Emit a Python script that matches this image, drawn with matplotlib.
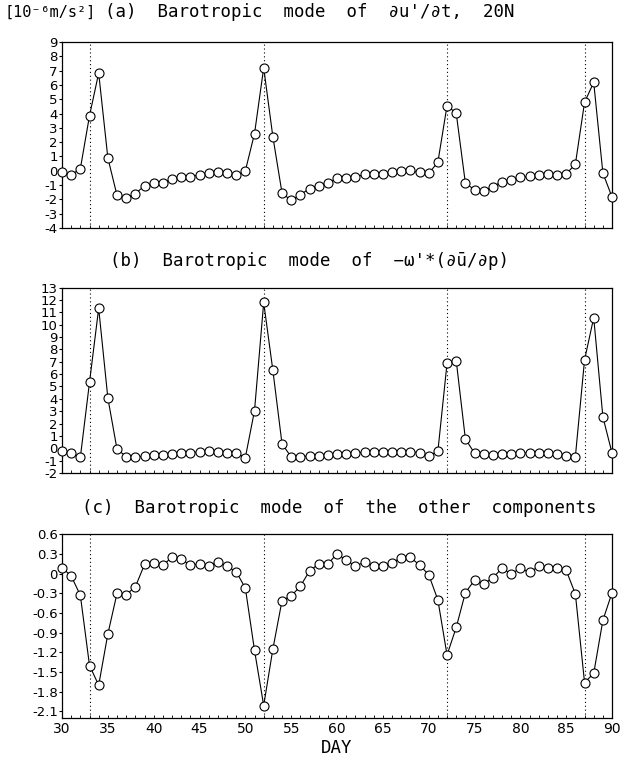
import matplotlib
matplotlib.use('Agg')
from matplotlib import pyplot as plt
from matplotlib.ticker import MultipleLocator, FuncFormatter

plt.rcParams['font.family'] = ['DejaVu Sans']
title_font = ['DejaVu Sans Mono', 'DejaVu Sans']

days = list(range(30, 91))
event_days = [33, 52, 72, 87]

# (a) barotropic mode of du'/dt, 20N
dudt = [-0.1, -0.3, 0.15, 3.85, 6.83, 0.9, -1.72, -1.9, -1.6, -1.05,
        -0.88, -0.88, -0.56, -0.42, -0.42, -0.28, -0.16, -0.1, -0.18, -0.33,
        0.0, 2.6, 7.2, 2.38, -1.56, -2.07, -1.68, -1.24, -1.03, -0.86,
        -0.51, -0.51, -0.44, -0.26, -0.26, -0.26, -0.1, -0.02, 0.02, -0.12,
        -0.19, 0.6, 4.55, 4.03, -0.86, -1.33, -1.4, -1.1, -0.77, -0.68,
        -0.44, -0.4, -0.3, -0.23, -0.28, -0.23, 0.47, 4.78, 6.18, -0.16,
        -1.84]

# (b) barotropic mode of -w'*(du/dp)
omega_term = [-0.2, -0.4, -0.73, 5.34, 11.33, 4.07, -0.08, -0.67, -0.73, -0.62,
              -0.57, -0.57, -0.43, -0.4, -0.35, -0.3, -0.24, -0.3, -0.35, -0.4,
              -0.75, 3.05, 11.8, 6.31, 0.35, -0.7, -0.7, -0.62, -0.6, -0.55,
              -0.5, -0.45, -0.4, -0.3, -0.3, -0.3, -0.3, -0.3, -0.3, -0.35,
              -0.6, -0.25, 6.88, 7.1, 0.76, -0.4, -0.5, -0.55, -0.5, -0.45,
              -0.4, -0.35, -0.35, -0.4, -0.45, -0.6, -0.67, 7.15, 10.57, 2.54,
              -0.4]

# (c) barotropic mode of the other components
other = [0.09, -0.035, -0.33, -1.4, -1.7, -0.92, -0.3, -0.32, -0.2, 0.14,
         0.17, 0.13, 0.25, 0.22, 0.13, 0.15, 0.12, 0.18, 0.11, 0.03,
         -0.22, -1.17, -2.01, -1.15, -0.41, -0.34, -0.19, 0.04, 0.15, 0.15,
         0.3, 0.21, 0.11, 0.18, 0.11, 0.11, 0.17, 0.24, 0.25, 0.13,
         -0.015, -0.4, -1.24, -0.82, -0.29, -0.1, -0.16, -0.06, 0.08, 0.0,
         0.08, 0.02, 0.11, 0.09, 0.09, 0.05, -0.31, -1.66, -1.52, -0.71,
         -0.29]

c_ticks = [-2.1, -1.8, -1.5, -1.2, -0.9, -0.6, -0.3, 0, 0.3, 0.6]

panels = [
    (dudt, (-4, 9), '(a)  Barotropic  mode  of  \u2202u\'/\u2202t,  20N'),
    (omega_term, (-2, 13), '(b)  Barotropic  mode  of  \u2212\u03c9\'*(\u2202\u016b/\u2202p)'),
    (other, (-2.2, 0.6), '(c)  Barotropic  mode  of  the  other  components'),
]
boxes = [
    [0.0997, 0.7004, 0.8843, 0.2444],
    [0.0997, 0.3785, 0.8843, 0.2435],
    [0.0997, 0.0565, 0.8843, 0.2414],
]
# title anchors (figure fraction)
title_pos = [(0.169, 0.984, 'left'), (0.498, 0.657, 'center'), (0.545, 0.3325, 'center')]


def fmt(v, pos):
    if abs(v) < 1e-9:
        return '0'
    if abs(v - round(v)) < 1e-9:
        return '%d' % round(v)
    return '%.1f' % v


fig = plt.figure(figsize=(6.22, 7.61), dpi=100)

for i, (vals, ylim, title) in enumerate(panels):
    ax = fig.add_axes(boxes[i])
    for d in event_days:
        ax.axvline(d, color='black', linestyle=(0, (1, 2.5)), linewidth=0.8)
    ax.plot(days, vals, color='black', linewidth=0.8, marker='o',
            markersize=6.5, markerfacecolor='white', markeredgecolor='black',
            markeredgewidth=0.8, clip_on=False, zorder=3)
    ax.set_xlim(30, 90)
    ax.set_ylim(ylim)
    if i < 2:
        ax.yaxis.set_major_locator(MultipleLocator(1))
    else:
        ax.set_yticks(c_ticks)
    ax.yaxis.set_major_formatter(FuncFormatter(fmt))
    ax.xaxis.set_major_locator(MultipleLocator(5))
    ax.xaxis.set_minor_locator(MultipleLocator(1))
    ax.tick_params(axis='y', direction='out', length=2, width=0.8,
                   labelsize=9.5, pad=1)
    ax.tick_params(axis='x', which='both', direction='in', length=2,
                   width=0.6, labelsize=10, pad=3)
    for s in ax.spines.values():
        s.set_linewidth(0.9)
    if i < 2:
        ax.tick_params(axis='x', labelbottom=False)
    else:
        ax.set_xlabel('DAY', fontsize=12.5, labelpad=2, family=title_font)
    tx, ty, ha = title_pos[i]
    fig.text(tx, ty, title, fontsize=12.5, ha=ha, va='center', family=title_font)

fig.text(0.008, 0.984, '[10\u207b\u2076m/s\u00b2]', fontsize=11, va='center',
         family=title_font)

fig.savefig('out.png', dpi=100)
